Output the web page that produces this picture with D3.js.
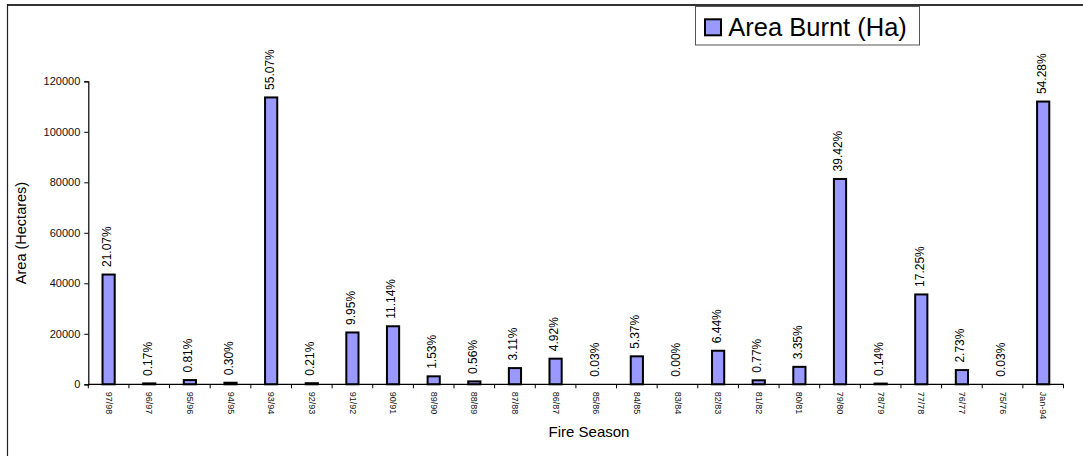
<!DOCTYPE html>
<html>
<head>
<meta charset="utf-8">
<script src="https://cdn.jsdelivr.net/npm/d3@7"></script>
<style>
  html, body { margin: 0; padding: 0; background: #fff; }
  svg { display: block; font-family: "Liberation Sans", Arial, sans-serif; }
</style>
</head>
<body>
<svg id="chart" width="1083" height="456"></svg>
<script>
// Fire seasons, most recent first
const seasons = ["97/98", "96/97", "95/96", "94/95", "93/94", "92/93", "91/92", "90/91",
  "89/90", "88/89", "87/88", "86/87", "85/86", "84/85", "83/84", "82/83", "81/82",
  "80/81", "79/80", "78/79", "77/78", "76/77", "75/76", "Jan-94"];

// Area burnt in each season (hectares)
const areaBurnt = [43470, 351, 1671, 619, 113610, 433, 20527, 22982,
  3156, 1155, 6416, 10150, 62, 11078, 0, 13286, 1589,
  6911, 81323, 289, 35587, 5632, 62, 111980];

// Percentage shown above each bar
const percentLabels = ["21.07%", "0.17%", "0.81%", "0.30%", "55.07%", "0.21%", "9.95%", "11.14%",
  "1.53%", "0.56%", "3.11%", "4.92%", "0.03%", "5.37%", "0.00%", "6.44%", "0.77%",
  "3.35%", "39.42%", "0.14%", "17.25%", "2.73%", "0.03%", "54.28%"];

const yTicks = [0, 20000, 40000, 60000, 80000, 100000, 120000];

const svg = d3.select("#chart");
const plot = { left: 88.3, right: 1063.5, top: 81.3, bottom: 384.3 };

// frame around the chart area (only top and left edges fall inside the view)
svg.append("line").attr("x1", 7).attr("x2", 1083).attr("y1", 5).attr("y2", 5)
  .attr("stroke", "#333").attr("stroke-width", 2);
svg.append("line").attr("x1", 7.5).attr("x2", 7.5).attr("y1", 4).attr("y2", 456)
  .attr("stroke", "#222").attr("stroke-width", 1.2);

const x = d3.scaleBand()
  .domain(seasons)
  .range([plot.left, plot.right])
  .paddingInner(0.7)
  .paddingOuter(0.35);

// category boundaries for the tick marks
const xEdge = d3.scaleLinear().domain([0, seasons.length]).range([plot.left, plot.right]);

const y = d3.scaleLinear().domain([0, 120000]).range([plot.bottom, plot.top]);

// bars
svg.append("g").selectAll("rect")
  .data(seasons)
  .join("rect")
  .attr("x", d => x(d))
  .attr("width", x.bandwidth())
  .attr("y", (d, i) => y(areaBurnt[i]))
  .attr("height", (d, i) => y(0) - y(areaBurnt[i]))
  .attr("fill", "#9999ff")
  .attr("stroke", "#000")
  .attr("stroke-width", (d, i) => (y(0) - y(areaBurnt[i]) < 0.5 ? 0 : 2));

// y axis
const yAxis = svg.append("g")
  .attr("transform", `translate(${plot.left},0)`)
  .call(d3.axisLeft(y).tickValues(yTicks).tickFormat(d3.format("d")).tickSize(4).tickPadding(4));
yAxis.select(".domain").attr("stroke", "#000").attr("stroke-width", 1.2);
yAxis.selectAll(".tick line").attr("stroke", "#000");
yAxis.selectAll(".tick text")
  .attr("font-family", "Liberation Sans, Arial, sans-serif")
  .attr("font-size", 11)
  .attr("fill", "#111");

// x axis line and boundary ticks
const xAxis = svg.append("g");
xAxis.append("line")
  .attr("x1", plot.left).attr("x2", plot.right)
  .attr("y1", y(0)).attr("y2", y(0))
  .attr("stroke", "#000").attr("stroke-width", 1.2);
xAxis.selectAll("line.edge")
  .data(d3.range(seasons.length + 1))
  .join("line")
  .attr("class", "edge")
  .attr("x1", d => xEdge(d)).attr("x2", d => xEdge(d))
  .attr("y1", y(0)).attr("y2", y(0) + 4)
  .attr("stroke", "#000");

// category labels, rotated to read downwards
xAxis.selectAll("text")
  .data(seasons)
  .join("text")
  .attr("transform", d => `translate(${x(d) + x.bandwidth() / 2},${y(0) + 7.5}) rotate(90)`)
  .attr("dy", "0.32em")
  .attr("font-size", 9)
  .attr("fill", "#111")
  .text(d => d);

// percentage labels above the bars
svg.append("g").selectAll("text")
  .data(seasons)
  .join("text")
  .attr("transform", (d, i) => `translate(${x(d) + x.bandwidth() / 2},${y(areaBurnt[i]) - 7.5}) rotate(-90)`)
  .attr("dy", "0.2em")
  .attr("font-size", 12)
  .attr("fill", "#000")
  .text((d, i) => percentLabels[i]);

// axis titles
svg.append("text")
  .attr("transform", "translate(21,233) rotate(-90)")
  .attr("text-anchor", "middle")
  .attr("dy", "0.35em")
  .attr("font-size", 14.5)
  .attr("fill", "#000")
  .text("Area (Hectares)");

svg.append("text")
  .attr("x", 589)
  .attr("y", 437.3)
  .attr("text-anchor", "middle")
  .attr("font-size", 15)
  .attr("fill", "#000")
  .text("Fire Season");

// legend
const legend = svg.append("g");
legend.append("rect")
  .attr("x", 695.5).attr("y", 6.5).attr("width", 224).attr("height", 38.5)
  .attr("fill", "#fff").attr("stroke", "#555").attr("stroke-width", 1);
legend.append("rect")
  .attr("x", 705).attr("y", 19.3).attr("width", 16).attr("height", 16)
  .attr("fill", "#9999ff").attr("stroke", "#000").attr("stroke-width", 2);
legend.append("text")
  .attr("x", 728.3).attr("y", 36)
  .attr("font-size", 25.5)
  .attr("fill", "#000")
  .text("Area Burnt (Ha)");
</script>
</body>
</html>
